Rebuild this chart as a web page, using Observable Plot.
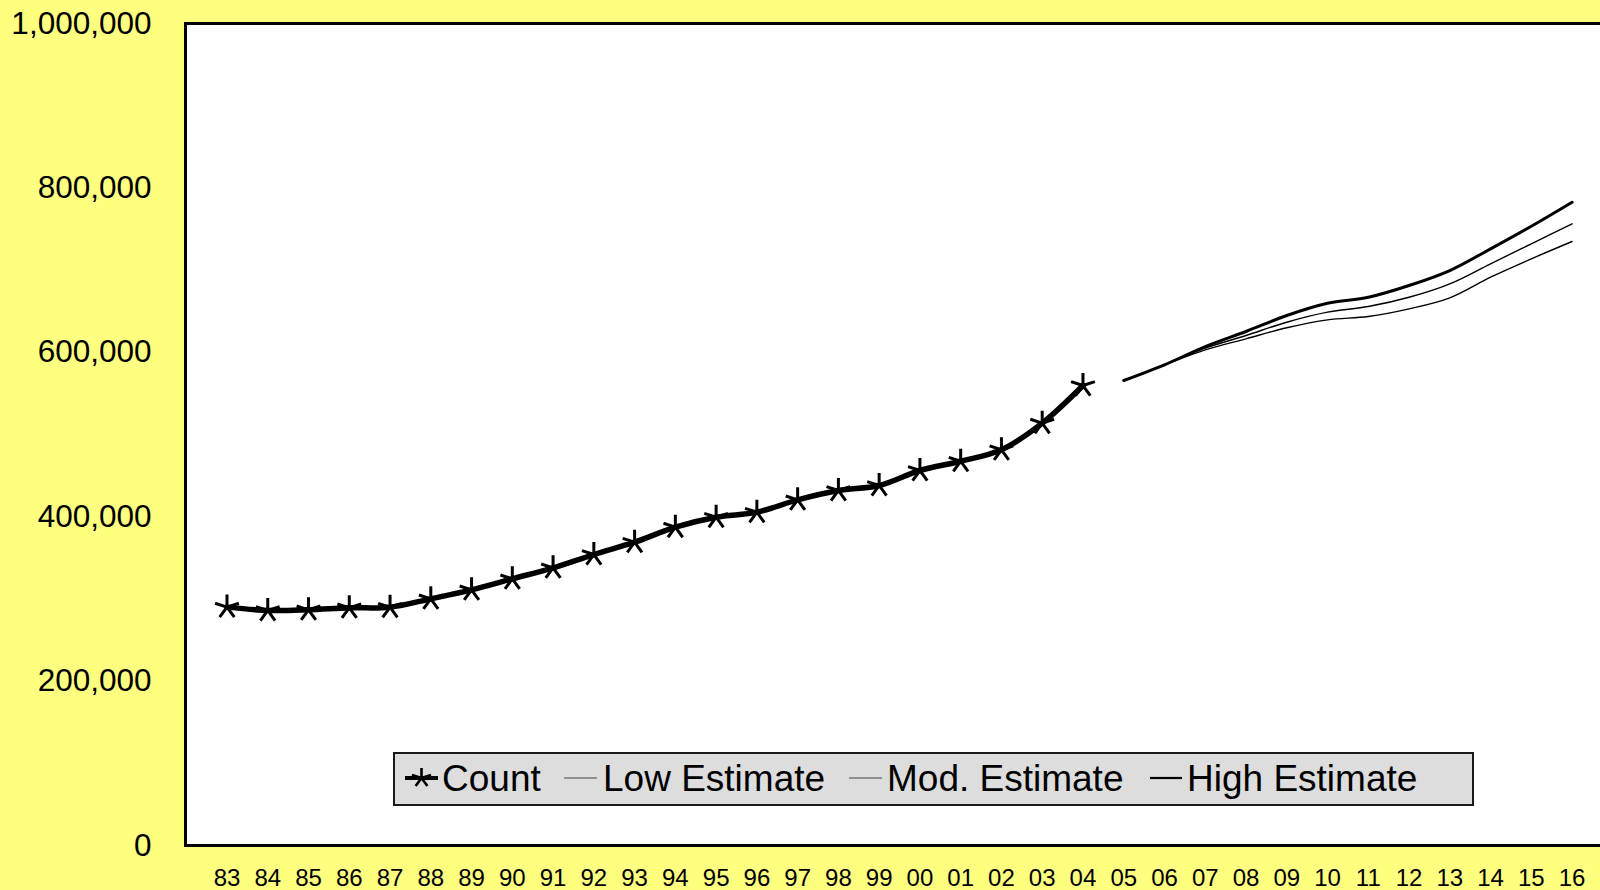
<!DOCTYPE html>
<html><head><meta charset="utf-8">
<script src="https://cdn.jsdelivr.net/npm/d3@7"></script>
<script src="https://cdn.jsdelivr.net/npm/@observablehq/plot@0.6"></script>
<style>
body{margin:0;background:#FFFF80;}
#wrap{position:relative;width:1600px;height:890px;background:#FFFF80;overflow:hidden;font-family:"Liberation Sans",Arial,sans-serif;}
#legendBox{position:absolute;left:393px;top:752px;width:1081px;height:54px;background:#DDDDDD;border:2px solid #1a1a1a;box-sizing:border-box;}
.lt{position:absolute;top:760px;font-size:37px;line-height:37px;color:#000;white-space:nowrap;}
</style></head><body><div id="wrap"></div>
<script>
const yearLabels = ["83","84","85","86","87","88","89","90","91","92","93","94","95","96","97","98","99","00","01","02","03","04","05","06","07","08","09","10","11","12","13","14","15","16"];
const countYears = ["83","84","85","86","87","88","89","90","91","92","93","94","95","96","97","98","99","00","01","02","03","04"];
const countValues = [290000, 285900, 286700, 289100, 289900, 300100, 311000, 324400, 337800, 354000, 369000, 387300, 399400, 405500, 420500, 431900, 438000, 456200, 467500, 481400, 513800, 559600];
const estimateYears = ["05","06","07","08","09","10","11","12","13","14","15","16"];
const lowEstimate  = [565700, 584800, 603000, 616400, 629800, 639500, 643600, 652900, 666300, 691400, 713700, 734800];
const modEstimate  = [565700, 584800, 605000, 620400, 636600, 648800, 655700, 667000, 683300, 707700, 732000, 756300];
const highEstimate = [565700, 584800, 607000, 625300, 644800, 659700, 667000, 681300, 699500, 725900, 753400, 782600];
const yTicks = [0, 200000, 400000, 600000, 800000, 1000000];
const legendLabels = ["Count", "Low Estimate", "Mod. Estimate", "High Estimate"];

// category position = index of the year label
const pos = (y) => yearLabels.indexOf(y);
const countData = countYears.map((y, i) => ({x: pos(y), value: countValues[i]}));
const est = (arr) => estimateYears.map((y, i) => ({x: pos(y), value: arr[i]}));
const xTicks = yearLabels.map((y) => pos(y));

// five-armed star marker like the spreadsheet's
const star = {
  draw(ctx, size) {
    const r = Math.sqrt(size / Math.PI);
    for (let k = 0; k < 5; k++) {
      const a = (-90 + 72 * k) * Math.PI / 180;
      ctx.moveTo(0, 0);
      ctx.lineTo(r * Math.cos(a), r * Math.sin(a));
    }
  }
};

const chart = Plot.plot({
  width: 1600,
  height: 890,
  marginLeft: 185,
  marginTop: 23,
  marginBottom: 45,
  marginRight: -4,
  style: {background: "transparent", fontFamily: "'Liberation Sans', Arial, sans-serif", color: "#000", overflow: "visible"},
  x: {type: "linear", domain: [-1.018, 33.795]},
  y: {domain: [0, 1000000]},
  marks: [
    Plot.frame({fill: "white", stroke: "black", strokeWidth: 3}),
    Plot.axisY(yTicks, {tickSize: 0, tickPadding: 34, tickFormat: d3.format(","), fontSize: 31.5, label: null}),
    Plot.axisX(xTicks, {tickSize: 0, tickPadding: 23, fontSize: 24, label: null, tickFormat: (i) => yearLabels[i]}),
    Plot.line(est(lowEstimate), {x: "x", y: "value", curve: "catmull-rom", stroke: "black", strokeWidth: 1.4}),
    Plot.line(est(modEstimate), {x: "x", y: "value", curve: "catmull-rom", stroke: "black", strokeWidth: 1.4}),
    Plot.line(est(highEstimate), {x: "x", y: "value", curve: "catmull-rom", stroke: "black", strokeWidth: 3}),
    Plot.line(countData, {x: "x", y: "value", curve: "catmull-rom", stroke: "black", strokeWidth: 5.5}),
    Plot.dot(countData, {x: "x", y: "value", symbol: star, r: 12.5, stroke: "black", strokeWidth: 3, fill: "none"})
  ]
});

const wrap = document.getElementById("wrap");
wrap.appendChild(chart);

// legend (inside the plot area, bottom)
const box = document.createElement("div");
box.id = "legendBox";
wrap.appendChild(box);

const ns = "http://www.w3.org/2000/svg";
const sw = document.createElementNS(ns, "svg");
sw.setAttribute("width", 1600);
sw.setAttribute("height", 890);
sw.style.position = "absolute"; sw.style.left = "0"; sw.style.top = "0";
wrap.appendChild(sw);
function line(x1, x2, y, w, c) {
  const l = document.createElementNS(ns, "line");
  l.setAttribute("x1", x1); l.setAttribute("x2", x2);
  l.setAttribute("y1", y); l.setAttribute("y2", y);
  l.setAttribute("stroke", c); l.setAttribute("stroke-width", w);
  sw.appendChild(l);
}
const ly = 778;
line(405, 438, ly, 4, "#000");
{
  const p = document.createElementNS(ns, "path");
  let d = "";
  const r = 10;
  for (let k = 0; k < 5; k++) {
    const a = (-90 + 72 * k) * Math.PI / 180;
    d += `M421.5,${ly}L${421.5 + r * Math.cos(a)},${ly + r * Math.sin(a)}`;
  }
  p.setAttribute("d", d);
  p.setAttribute("stroke", "#000"); p.setAttribute("stroke-width", 2.6); p.setAttribute("fill", "none");
  sw.appendChild(p);
}
line(564, 597, ly, 1.5, "#777");
line(849, 882, ly, 1.5, "#777");
line(1150, 1182, ly, 2.2, "#000");

const textX = [442, 603, 887, 1187];
legendLabels.forEach((t, i) => {
  const s = document.createElement("div");
  s.className = "lt";
  s.style.left = textX[i] + "px";
  s.textContent = t;
  wrap.appendChild(s);
});
</script>
</body></html>
